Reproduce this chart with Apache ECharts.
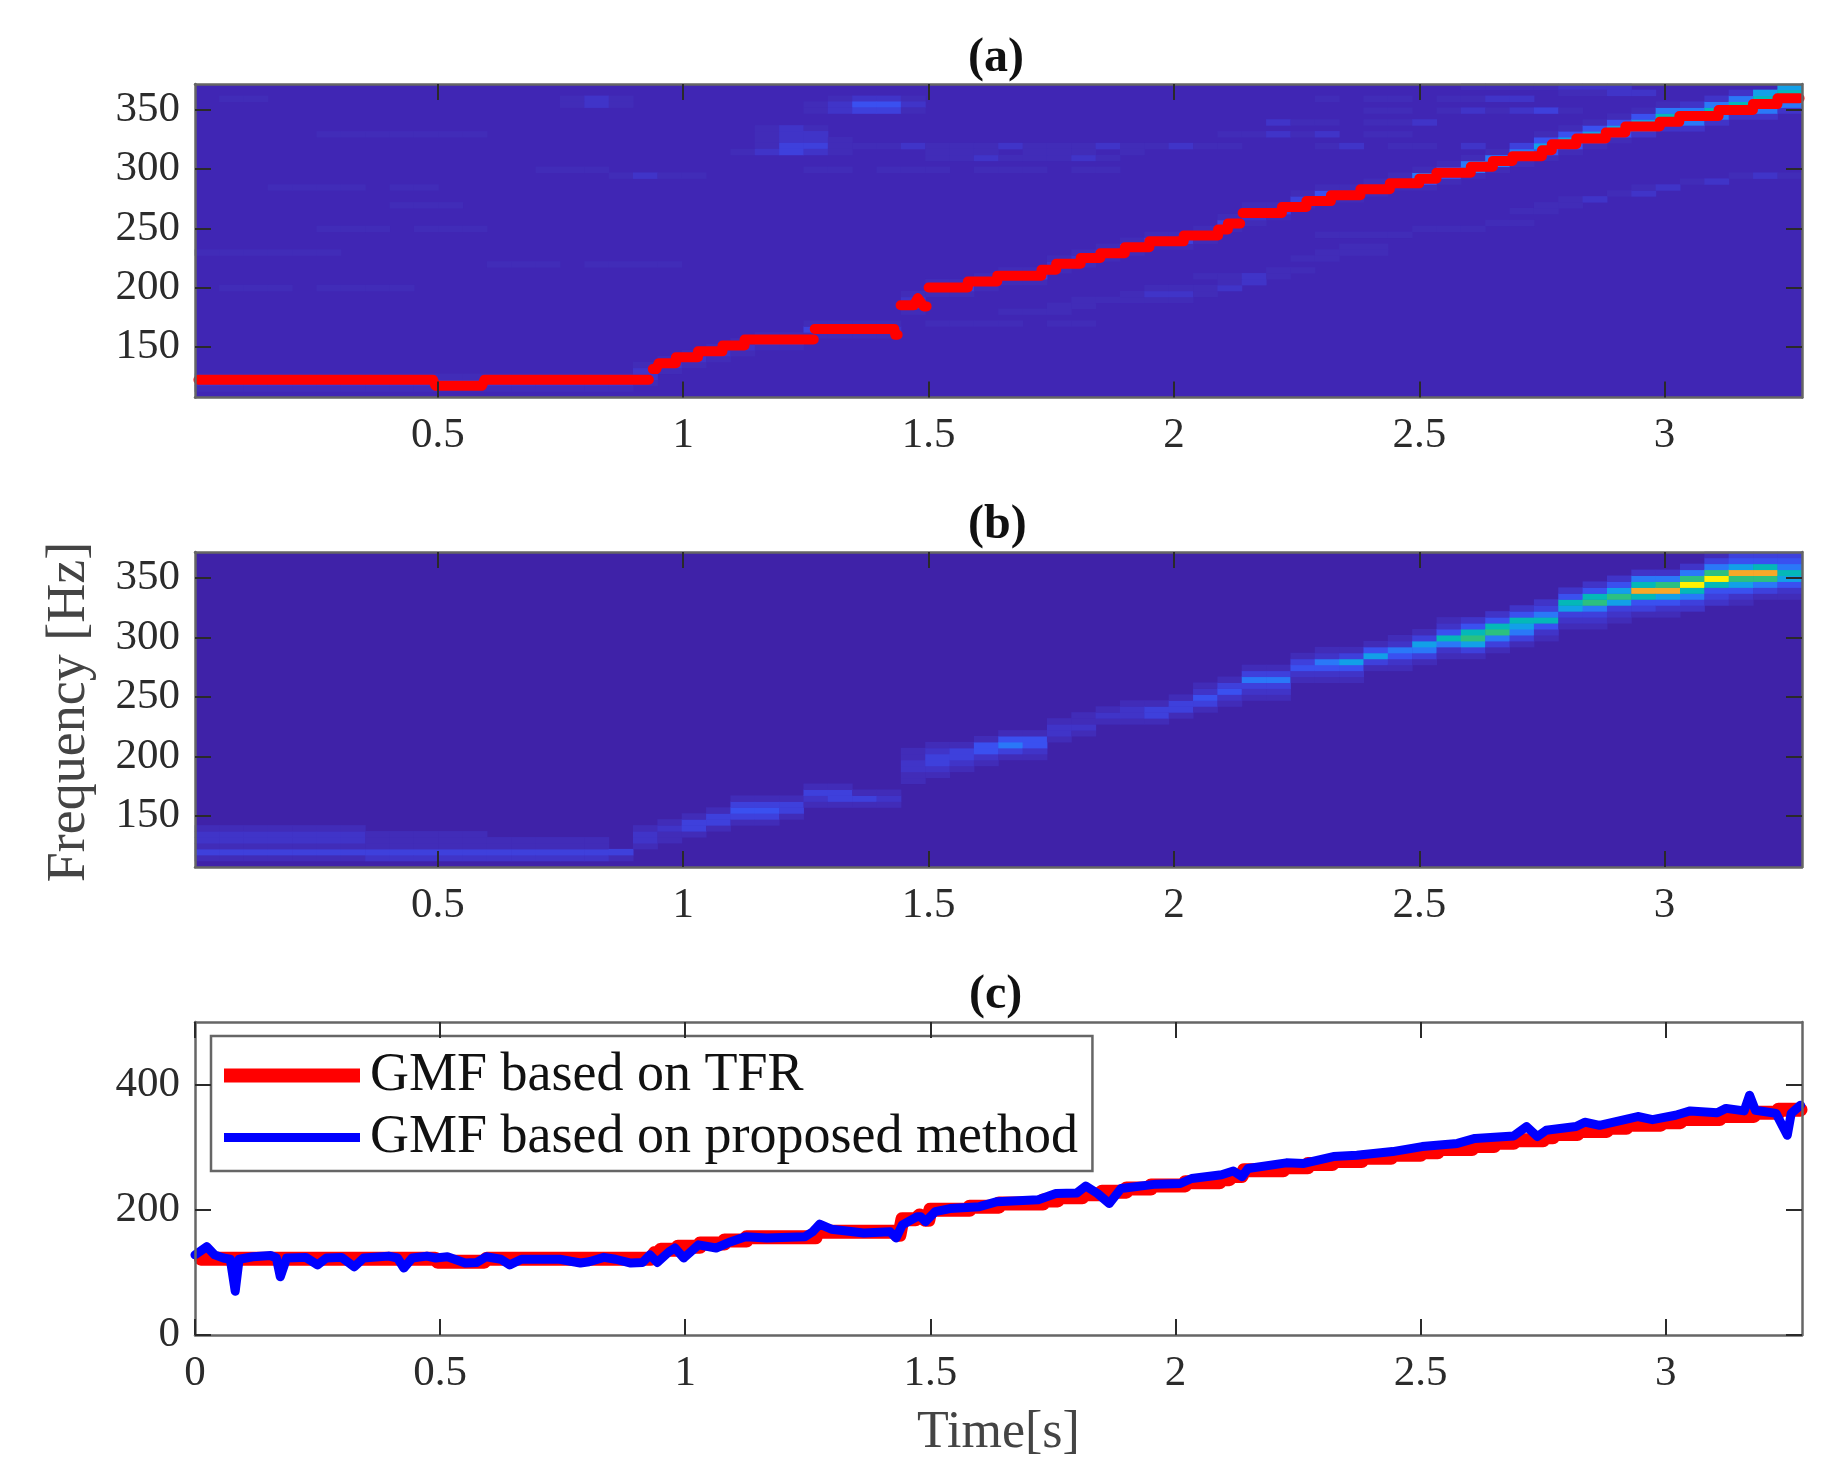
<!DOCTYPE html>
<html>
<head>
    <meta charset="utf-8" />
    <title>GMF</title>
    <style>
        html, body { margin: 0; padding: 0; background: #fff; }
        #charts { width: 1845px; height: 1477px; }
    </style>
</head>
<body>
    <div id="charts"></div>
    <script src="https://cdn.jsdelivr.net/npm/echarts@6/dist/echarts.min.js"></script>
    <script type="text/javascript">
        // tick labels
        var xTicksTop = [0.5, 1, 1.5, 2, 2.5, 3];
        var xTicksBottom = [0, 0.5, 1, 1.5, 2, 2.5, 3];
        var fTicks = [150, 200, 250, 300, 350];
        var gmfTicks = [0, 200, 400];

        // red GMF read from (a): each flat step is start time, end time, frequency
        var tfrStart = [0.012, 0.495, 0.595, 0.938, 0.95, 0.985, 1.03, 1.08, 1.125, 1.268, 1.432, 1.443, 1.478, 1.49,
            1.5, 1.58, 1.64, 1.73, 1.76, 1.81, 1.85, 1.9, 1.95, 2.02, 2.09, 2.11,
            2.14, 2.22, 2.27, 2.32, 2.38, 2.44, 2.5, 2.535, 2.605, 2.65, 2.69, 2.75, 2.77, 2.82, 2.88, 2.92, 2.99, 3.03, 3.11, 3.18, 3.23];
        var tfrEnd = [0.49, 0.59, 0.93, 0.945, 0.985, 1.03, 1.08, 1.125, 1.266, 1.43, 1.437, 1.47, 1.482, 1.496,
            1.58, 1.64, 1.73, 1.76, 1.81, 1.85, 1.9, 1.95, 2.02, 2.09, 2.11, 2.135,
            2.22, 2.27, 2.32, 2.38, 2.44, 2.5, 2.535, 2.605, 2.65, 2.69, 2.75, 2.77, 2.82, 2.88, 2.92, 2.99, 3.03, 3.11, 3.18, 3.23, 3.275];
        var tfrFreq = [122, 117, 122, 131, 136, 141, 146, 151, 156, 165, 160, 185, 191, 184,
            200, 205, 210, 215, 220, 225, 229, 234, 239, 244, 249, 254,
            263, 268, 273, 278, 283, 288, 292, 297, 302, 307, 311, 316, 321, 326, 331, 336, 340, 345, 350, 355, 360];

        // blue GMF read from (c)
        var propTime = [0, 0.024, 0.04, 0.058, 0.072, 0.082, 0.09, 0.118, 0.154, 0.166, 0.174, 0.187, 0.226, 0.25, 0.268, 0.299, 0.325, 0.344,
            0.395, 0.413, 0.426, 0.443, 0.473, 0.491, 0.515, 0.551, 0.575, 0.594, 0.624, 0.642, 0.666, 0.744, 0.786, 0.804, 0.834, 0.858, 0.889, 0.913,
            0.928, 0.943, 0.967, 0.979, 0.997, 1.027, 1.063, 1.093, 1.123, 1.166, 1.244, 1.26, 1.274, 1.298, 1.364, 1.418, 1.43, 1.443, 1.473, 1.48, 1.49,
            1.51, 1.54, 1.6, 1.636, 1.72, 1.756, 1.799, 1.817, 1.841, 1.865, 1.889, 1.96, 2.01, 2.033, 2.094, 2.118, 2.136, 2.148, 2.226, 2.262, 2.322, 2.37,
            2.443, 2.503, 2.575, 2.611, 2.69, 2.716, 2.738, 2.756, 2.817, 2.835, 2.865, 2.943, 2.973, 3.02, 3.05, 3.105, 3.123, 3.16, 3.171, 3.183, 3.225, 3.248, 3.256, 3.275];
        var propFreq = [128, 141, 128, 123, 121, 70, 121, 125, 127, 123, 93, 123, 124, 112, 123, 124, 109, 123,
            126, 123, 107, 123, 126, 123, 125, 115, 116, 125, 121, 112, 121, 121, 115, 117, 124, 121, 115, 116,
            128, 116, 133, 139, 123, 144, 139, 149, 157, 155, 157, 165, 177, 169, 163, 165, 155, 176, 189, 189, 181,
            197, 202, 205, 213, 216, 226, 227, 238, 226, 210, 234, 241, 242, 250, 256, 262, 253, 266, 275, 274, 285, 287,
            293, 301, 306, 314, 318, 333, 317, 327, 333, 340, 335, 349, 344, 351, 358, 355, 362, 358, 383, 359, 354, 319, 354, 367];

        // spectrogram cells: one hex digit per cell, column = time bin, row = 5 Hz bin
        var aColStart = [1, 1, 1, 1, 1, 1, 1, 1, 1, 1, 1, 1, 1, 1, 1, 1, 1, 1, 2, 4, 5, 6, 7, 8, 8, 10, 10, 10, 10, 14,
            17, 17, 18, 19, 19, 21, 22, 23, 24, 25, 25, 26, 28, 29, 30, 32, 33, 33, 34, 35, 35, 36, 37, 38, 39,
            40, 41, 42, 43, 44, 45, 45, 46, 47, 47, 48];
        var aColLevels = ["121", "121", "121", "121", "121", "121", "121", "121", "121", "121", "121", "121", "121", "121", "121", "121", "121", "121",
            "1221", "121", "121", "121", "121", "131", "131", "131", "121", "121", "121", "1221",
            "131", "131", "121", "131", "131", "121", "121", "121", "131", "131", "131", "131", "131", "1231", "131", "131", "141", "141", "141", "141",
            "1451", "1441", "1551", "1551", "1353",
            "14641", "14641", "14641", "14641", "25641", "25751", "25752", "25752", "25752", "25676", "25676"];
        // faint streaks of (a) away from the main ridge
        var aBandRow = [50, 49, 48, 50, 49, 45, 44, 43, 42, 41, 42, 37, 38, 40,
            52, 51, 50, 48, 46, 44, 42,
            14, 15, 16, 16, 17, 18, 18, 19, 20, 20, 21, 23, 24, 25,
            31, 32, 33, 34, 35, 36, 37, 27, 28, 29,
            24, 18, 32, 44, 50, 38, 35, 28, 22, 12, 41];
        var aBandCol = [26, 25, 25, 15, 15, 23, 23, 23, 23, 22, 27, 17, 14, 30,
            52, 56, 46, 48, 44, 42, 46,
            33, 35, 36, 38, 38, 39, 41, 42, 41, 43, 44, 45, 46, 47,
            54, 55, 56, 58, 59, 61, 63, 46, 50, 53,
            0, 1, 8, 5, 1, 25, 3, 5, 12, 30, 30];
        var aBandLevels = ["1221", "12442", "12331", "121", "121", "121", "122", "1221", "1331", "12321", "1121112111211211", "1211", "111", "11211121",
            "1111222", "1122", "101101122", "110121231", "2110112", "11212011", "1201102",
            "111", "11", "112", "111", "1221", "11", "12", "12", "11", "21", "11", "11", "111", "11",
            "11", "11", "12", "12", "12", "12", "121", "1111", "111", "11",
            "111111", "11101111", "111", "1111111", "11", "1101110111011", "1111011", "1110111", "11101111", "1111011", "111011101"];

        var bColStart = [1, 1, 1, 1, 1, 1, 1, 1, 1, 1, 1, 1, 1, 1, 1, 1, 1, 1, 3, 4, 5, 6, 7, 7, 8, 10, 10, 10, 10, 14,
            15, 16, 17, 18, 18, 21, 22, 24, 24, 24, 25, 26, 27, 28, 28, 31, 31, 31, 33, 33, 34, 35, 35, 36, 37, 38,
            40, 40, 41, 42, 42, 43, 44, 44, 45, 45];
        var bColLevels = ["131221", "131221", "131221", "131221", "131221", "131221", "131221", "23111", "23111", "23111", "23111", "23111",
            "2311", "2311", "2311", "2311", "2311", "13", "1221", "1121", "1331", "1331", "13431", "13431", "1331", "1231", "1331", "131", "121", "112211",
            "123321", "12331", "12441", "13541", "12441", "1221", "1211", "121", "1221", "1331", "1331", "13421", "12431", "123531", "123531",
            "12431", "124521", "124631", "13641", "124521", "135631", "1257421", "1368742", "1358742", "1356742", "1247532",
            "1236742", "12358742", "12368642", "13479752", "12469852", "2357a852", "2347a8531", "124689643", "13589743", "12467543"];

        // digit to colour, low to high
        var levelColors = ["#3f22a8", "#412cb8", "#4034c8", "#3e40dc", "#3a50f0", "#2a78f8", "#12a0e8", "#04b8b8", "#2cc080", "#f8a828", "#fff200"];

        var fStep = 5, fLow = 107, tStep = 0.0496, tLow = 0.005;
        var timeBins = [], freqBins = [];
        for (var i = 0; i < 66; i++) { timeBins.push((tLow + tStep * (i + 0.5)).toFixed(3)); }
        for (var j = 0; j < 53; j++) { freqBins.push(String(fLow + fStep * (j + 0.5))); }

        // unpack the digit columns and streaks into [col, row, level]
        function pushCol(cells, col, row, digits) {
            for (var k = 0; k < digits.length; k++) {
                var v = parseInt(digits.charAt(k), 16);
                if (v > 0) cells.push([col, row + k, v]);
            }
        }
        var aCells = [], bCells = [];
        for (var n = 0; n < aBandRow.length; n++) {
            for (var m = 0; m < aBandLevels[n].length; m++) {
                var lv = parseInt(aBandLevels[n].charAt(m), 16);
                if (lv > 0) aCells.push([aBandCol[n] + m, aBandRow[n], lv]);
            }
        }
        for (var p = 0; p < aColStart.length; p++) { pushCol(aCells, p, aColStart[p], aColLevels[p]); }
        for (var q = 0; q < bColStart.length; q++) { pushCol(bCells, q, bColStart[q], bColLevels[q]); }

        // line data for the steps, (a) leaves holes at the big jumps
        var tfrGaps = [], tfrWhole = [];
        for (var s = 0; s < tfrStart.length; s++) {
            if (s > 0 && Math.abs(tfrFreq[s] - tfrFreq[s - 1]) > 8) tfrGaps.push([tfrStart[s], null]);
            tfrGaps.push([tfrStart[s], tfrFreq[s]]);
            tfrGaps.push([tfrEnd[s], tfrFreq[s]]);
            tfrWhole.push([tfrStart[s], tfrFreq[s]]);
            tfrWhole.push([tfrEnd[s], tfrFreq[s]]);
        }
        var propLine = [];
        for (var b = 0; b < propTime.length; b++) { propLine.push([propTime[b], propFreq[b]]); }

        var serif = "Liberation Serif";
        var tickStyle = { color: '#2a2a2a', width: 2 };
        var frameStyle = { color: '#666', width: 2.5 };
        var labelColor = '#2b2b2b';
        var titleStyle = { fontFamily: serif, fontSize: 48, fontWeight: 'bold', color: '#111' };

        function valueAxis(gridIndex, position, min, max, ticks, showLabel) {
            var vertical = position === 'left' || position === 'right';
            return {
                type: 'value', gridIndex: gridIndex, position: position, min: min, max: max, z: 4,
                splitLine: { show: false },
                axisLine: { show: true, onZero: false, lineStyle: frameStyle },
                axisTick: { show: true, inside: true, length: 16, customValues: ticks, lineStyle: tickStyle },
                axisLabel: {
                    show: showLabel, customValues: ticks, margin: vertical ? 15 : 17,
                    padding: vertical ? [6, 0, 0, 0] : 0,
                    fontFamily: serif, fontSize: 43, color: labelColor
                }
            };
        }
        function hiddenCategory(gridIndex, bins) {
            return { type: 'category', gridIndex: gridIndex, data: bins, show: false };
        }

        var xA = valueAxis(0, 'bottom', 0.005, 3.28, xTicksTop, true);
        var xB = valueAxis(1, 'bottom', 0.005, 3.28, xTicksTop, true);
        var xC = valueAxis(2, 'bottom', 0, 3.278, xTicksBottom, true);
        xC.name = 'Time[s]';
        xC.nameLocation = 'middle';
        xC.nameGap = 72;
        xC.nameTextStyle = { fontFamily: serif, fontSize: 52, color: '#444' };

        var yB = valueAxis(1, 'left', 107, 372, fTicks, true);
        yB.name = 'Frequency [Hz]';
        yB.nameLocation = 'middle';
        yB.nameGap = 98;
        yB.nameTextStyle = { fontFamily: serif, fontSize: 54, color: '#444', padding: [0, 5, 0, 0] };

        var option = {
            animation: false,
            backgroundColor: '#fff',
            title: [
                { text: '(a)', left: 963, top: 30, textStyle: titleStyle },
                { text: '(b)', left: 963, top: 497, textStyle: titleStyle },
                { text: '(c)', left: 964, top: 967, textStyle: titleStyle }
            ],
            grid: [
                { left: 195, top: 84, width: 1607, height: 313.5, show: true, borderWidth: 0, backgroundColor: '#4026b4' },
                { left: 195, top: 552, width: 1607, height: 315, show: true, borderWidth: 0, backgroundColor: '#3f22a8' },
                { left: 195, top: 1022, width: 1607, height: 313, show: true, borderWidth: 0, backgroundColor: '#fff' }
            ],
            xAxis: [
                xA, valueAxis(0, 'top', 0.005, 3.28, xTicksTop, false), hiddenCategory(0, timeBins),
                xB, valueAxis(1, 'top', 0.005, 3.28, xTicksTop, false), hiddenCategory(1, timeBins),
                xC, valueAxis(2, 'top', 0, 3.278, xTicksBottom, false)
            ],
            yAxis: [
                valueAxis(0, 'left', 107, 372, fTicks, true), valueAxis(0, 'right', 107, 372, fTicks, false), hiddenCategory(0, freqBins),
                yB, valueAxis(1, 'right', 107, 372, fTicks, false), hiddenCategory(1, freqBins),
                valueAxis(2, 'left', 0, 500, gmfTicks, true), valueAxis(2, 'right', 0, 500, gmfTicks, false)
            ],
            visualMap: {
                show: false, type: 'continuous', min: 0, max: 10, dimension: 2, seriesIndex: [0, 2],
                inRange: { color: levelColors }
            },
            legend: {
                left: 211, top: 1036, orient: 'vertical', itemGap: 0, itemWidth: 136, itemHeight: 14,
                padding: [8.5, 14.5, 2.5, 6], backgroundColor: '#fff', borderColor: '#666', borderWidth: 2.5,
                itemStyle: { opacity: 0 },
                textStyle: { fontFamily: serif, fontSize: 54, color: '#111', lineHeight: 62, padding: [0, 0, 0, 5] },
                data: [
                    { name: 'GMF based on TFR', lineStyle: { width: 14, cap: 'butt' } },
                    { name: 'GMF based on proposed method', lineStyle: { width: 9, cap: 'butt' } }
                ]
            },
            series: [
                { name: 'TFR a', type: 'heatmap', xAxisIndex: 2, yAxisIndex: 2, data: aCells, z: 1 },
                {
                    name: 'Ridge a', type: 'line', xAxisIndex: 0, yAxisIndex: 0, data: tfrGaps, symbol: 'none', z: 3,
                    lineStyle: { color: '#ff0000', width: 10, cap: 'round', join: 'round' }, itemStyle: { color: '#ff0000' }
                },
                { name: 'TFR b', type: 'heatmap', xAxisIndex: 5, yAxisIndex: 5, data: bCells, z: 1 },
                {
                    name: 'GMF based on TFR', type: 'line', xAxisIndex: 6, yAxisIndex: 6, data: tfrWhole, symbol: 'none', z: 3,
                    lineStyle: { color: '#ff0000', width: 14, join: 'round', cap: 'round' }, itemStyle: { color: '#ff0000' }
                },
                {
                    name: 'GMF based on proposed method', type: 'line', xAxisIndex: 6, yAxisIndex: 6, data: propLine, symbol: 'none', z: 3,
                    lineStyle: { color: '#0000ff', width: 9, join: 'round', cap: 'round' }, itemStyle: { color: '#0000ff' }
                }
            ]
        };

        var myChart = echarts.init(document.getElementById('charts'));
        myChart.setOption(option);
    </script>
</body>
</html>
